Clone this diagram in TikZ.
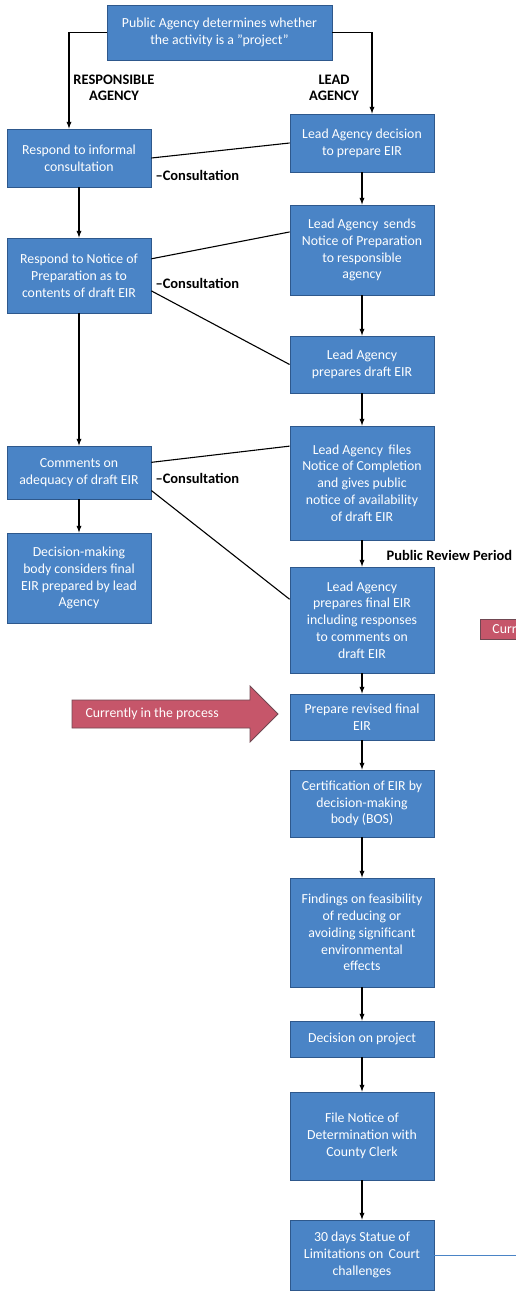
\documentclass[tikz,border=0pt]{standalone}
\usepackage{fontspec}
\setmainfont{Carlito}
\usetikzlibrary{calc}

\definecolor{boxblue}{RGB}{74,132,198}
\definecolor{boxedge}{RGB}{46,88,140}
\definecolor{flagred}{RGB}{198,86,106}
\definecolor{flagedge}{RGB}{112,72,82}

\begin{document}
\begin{tikzpicture}[x=1pt,y=-1pt,
  stepbox/.style={draw=boxedge, line width=0.8pt, fill=boxblue, text=white, align=center,
    inner sep=0pt, minimum width=144, font=\fontsize{13.8}{16.8}\selectfont},
  tag/.style={font=\fontsize{14.5}{16.5}\selectfont\bfseries, align=center},
  flow/.style={->, >=latex, line width=1.3pt},
  link/.style={line width=1.1pt}]

  \useasboundingbox (0,0) rectangle (516,1291);
  \clip (0,0) rectangle (516,1291);

  % top box
  \node (pub) at (219.5,32.5) [stepbox, minimum width=225, minimum height=55]
    {Public Agency determines whether\\ the activity is a "project"};
  \node (resp) at (114,88) [tag] {RESPONSIBLE\\ AGENCY};
  \node (lead) at (334,88) [tag] {LEAD\\ AGENCY};

  % responsible agency column
  \node (resp1) at (79,158)   [stepbox, minimum height=58] {Respond to informal\\ consultation};
  \node (resp2) at (79,275.5) [stepbox, minimum height=75] {Respond to Notice of\\ Preparation as to\\ contents of draft EIR};
  \node (resp3) at (79,472.5) [stepbox, minimum height=53] {Comments on\\ adequacy of draft EIR};
  \node (resp4) at (79,578)   [stepbox, minimum height=90] {Decision-making\\ body considers final\\ EIR prepared by lead\\ Agency};

  % lead agency column
  \node (lead1) at (362,143)   [stepbox, minimum height=58]  {Lead Agency decision\\ to prepare EIR};
  \node (lead2) at (362,250)   [stepbox, minimum height=90]  {Lead Agency\, sends\\ Notice of Preparation\\ to responsible\\ agency};
  \node (lead3) at (362,364.5) [stepbox, minimum height=57]  {Lead Agency\\ prepares draft EIR};
  \node (lead4) at (362,483)   [stepbox, minimum height=114] {Lead Agency\, files\\ Notice of Completion\\ and gives public\\ notice of availability\\ of draft EIR};
  \node (lead5) at (362,620)   [stepbox, minimum height=106] {Lead Agency\\ prepares final EIR\\ including responses\\ to comments on\\ draft EIR};
  \node (lead6) at (362,717)   [stepbox, minimum height=46]  {Prepare revised final\\ EIR};
  \node (cert)  at (362,803.5) [stepbox, minimum height=67]  {Certification of EIR by\\ decision-making\\ body (BOS)};
  \node (find)  at (362,932.5) [stepbox, minimum height=109] {Findings on feasibility\\ of reducing or\\ avoiding significant\\ environmental\\ effects};
  \node (dec)   at (362,1039)  [stepbox, minimum height=36]  {Decision on project};
  \node (file)  at (362,1136)  [stepbox, minimum height=88]  {File Notice of\\ Determination with\\ County Clerk};
  \node (stat)  at (362,1255)  [stepbox, minimum height=70]  {30 days Statue of\\ Limitations on\, Court\\ challenges};

  % labels
  \node (cons1) at (152,175) [tag, anchor=west] {--Consultation};
  \node (cons2) at (152,283) [tag, anchor=west] {--Consultation};
  \node (cons3) at (152,478) [tag, anchor=west] {--Consultation};
  \node (review) at (383,555) [tag, anchor=west] {Public Review Period};

  % arrows
  \draw [flow] (pub.west) -| ($(resp1.north)+(-10,0)$);
  \draw [flow] (pub.east) -| ($(lead1.north)+(10,0)$);
  \draw [flow] (resp1) -- (resp2);
  \draw [flow] (resp2) -- (resp3);
  \draw [flow] (resp3) -- (resp4);
  \foreach \a/\b in {lead1/lead2,lead2/lead3,lead3/lead4,lead4/lead5,lead5/lead6,lead6/cert,cert/find,find/dec,dec/file,file/stat}
  {
    \draw [flow] (\a) -- (\b);
  }

  % consultation links
  \draw [link] (resp1.east) -- (lead1.west);
  \draw [link] (resp2.13) -- (lead2.166);
  \draw [link] (resp2.-12) -- (lead3.west);
  \draw [link] (resp3.8) -- (lead4.153);
  \draw [link] (resp3.-14) -- (lead5.164);

  % current step marker
  \filldraw [fill=flagred, draw=flagedge, line width=0.8pt]
    (72,700) -- (250,700) -- (250,686) -- (278,714) -- (250,742) -- (250,728) -- (72,728) -- cycle;
  \node (flag) at (82,714) [anchor=west, text=white, font=\fontsize{13.8}{16.8}\selectfont]
    {Currently in the process};
  % second marker, runs off the right edge
  \node (curr) at (480,629) [anchor=west, fill=flagred, draw=flagedge, line width=0.8pt, text=white,
    minimum height=20, inner ysep=0pt, inner xsep=12pt, text width=60pt, align=left,
    font=\fontsize{13.8}{16.8}\selectfont] {Curr};

  \coordinate (edge) at (516,1255);
  \draw [line width=1pt, boxblue] (stat.east) -- (edge);
\end{tikzpicture}
\end{document}
